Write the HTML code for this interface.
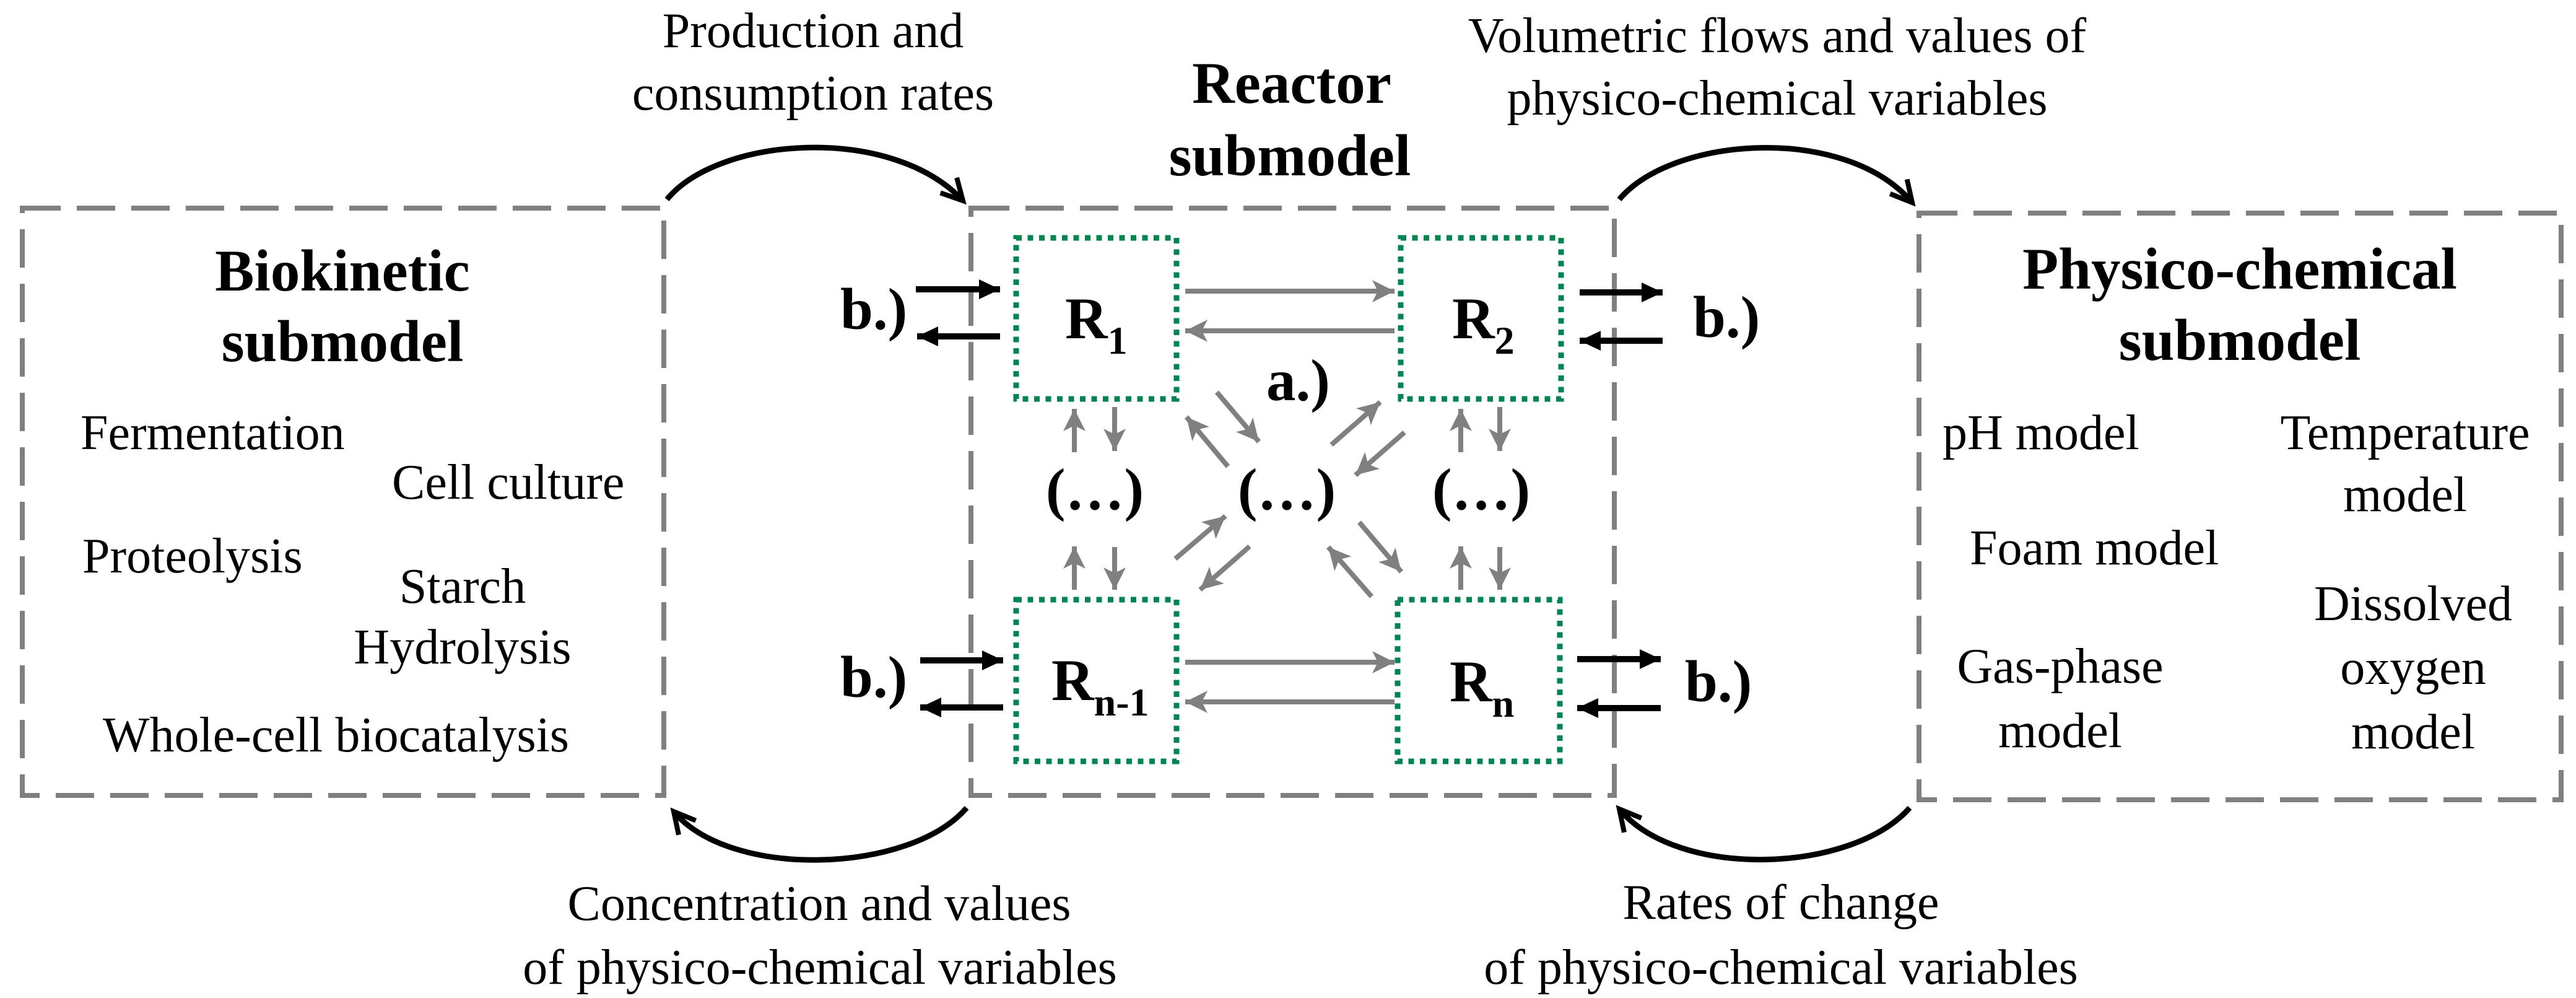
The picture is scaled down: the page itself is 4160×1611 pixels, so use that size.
<!DOCTYPE html>
<html><head><meta charset="utf-8"><style>
html,body{margin:0;padding:0;background:#fff}
body{position:relative;width:4160px;height:1611px;overflow:hidden}
svg{display:block;position:absolute;left:0;top:0}
.t{position:absolute;white-space:nowrap;line-height:1;font-family:"Liberation Serif","Times New Roman",serif;color:#000}
.c{transform:translateX(-50%)}
.b{font-weight:bold}
.f80{font-size:80px}
.f95{font-size:95px}
sub{font-size:64px;vertical-align:-25px;line-height:0}
</style></head><body>
<svg width="4160" height="1611" viewBox="0 0 4160 1611" xmlns="http://www.w3.org/2000/svg">
<defs>
<marker id="g" markerUnits="userSpaceOnUse" markerWidth="44" markerHeight="44" refX="36" refY="18" orient="auto"><path d="M0,0 L36,18 L0,36 L9,18 Z" fill="#808080"/></marker>
<marker id="k" markerUnits="userSpaceOnUse" markerWidth="40" markerHeight="40" refX="34" refY="16" orient="auto"><path d="M0,0 L34,16 L0,32 Z" fill="#000"/></marker>
<marker id="v" markerUnits="userSpaceOnUse" markerWidth="50" markerHeight="50" refX="38" refY="22" orient="auto"><path d="M4,4 L38,22 L4,40" fill="none" stroke="#000" stroke-width="8"/></marker>
</defs>
<g fill="none" stroke="#808080" stroke-width="8" stroke-dasharray="62,26">
<rect x="36" y="336" width="1036" height="948"/>
<rect x="1568" y="336" width="1039" height="948"/>
<rect x="3099" y="344" width="1037" height="947"/>
</g>
<g fill="none" stroke="#008550" stroke-width="9" stroke-dasharray="9,9.5">
<rect x="1641" y="384" width="259" height="260"/>
<rect x="2262" y="384" width="259" height="260"/>
<rect x="1641" y="968" width="259" height="261"/>
<rect x="2257" y="968" width="262" height="261"/>
</g>
<g stroke="#808080" stroke-width="8" fill="none" marker-end="url(#g)">
<line x1="1914" y1="470" x2="2252" y2="470"/>
<line x1="2252" y1="534" x2="1914" y2="534"/>
<line x1="1914" y1="1069" x2="2252" y2="1069"/>
<line x1="2252" y1="1133" x2="1914" y2="1133"/>
<line x1="1735" y1="730" x2="1735" y2="660"/>
<line x1="1800" y1="657" x2="1800" y2="728"/>
<line x1="1735" y1="952" x2="1735" y2="882"/>
<line x1="1800" y1="883" x2="1800" y2="952"/>
<line x1="2359" y1="730" x2="2359" y2="660"/>
<line x1="2422" y1="657" x2="2422" y2="728"/>
<line x1="2359" y1="952" x2="2359" y2="882"/>
<line x1="2422" y1="883" x2="2422" y2="952"/>
<line x1="1965" y1="633" x2="2033" y2="713"/>
<line x1="1983" y1="753" x2="1916" y2="673"/>
<line x1="2150" y1="718" x2="2229" y2="649"/>
<line x1="2268" y1="698" x2="2189" y2="767"/>
<line x1="1898" y1="902" x2="1979" y2="833"/>
<line x1="2018" y1="882" x2="1938" y2="952"/>
<line x1="2195" y1="843" x2="2263" y2="923"/>
<line x1="2215" y1="963" x2="2145" y2="883"/>
</g>
<g stroke="#000" stroke-width="10" marker-end="url(#k)">
<line x1="1479" y1="467" x2="1615" y2="467"/>
<line x1="1615" y1="543" x2="1481" y2="543"/>
<line x1="1486" y1="1066" x2="1620" y2="1066"/>
<line x1="1620" y1="1142" x2="1486" y2="1142"/>
<line x1="2551" y1="472" x2="2685" y2="472"/>
<line x1="2685" y1="550" x2="2551" y2="550"/>
<line x1="2547" y1="1064" x2="2682" y2="1064"/>
<line x1="2682" y1="1143" x2="2547" y2="1143"/>
</g>
<g fill="none" stroke="#000" stroke-width="9" marker-end="url(#v)">
<path d="M1077,322 C1160,220 1440,200 1555,324"/>
<path d="M2615,322 C2700,220 2980,200 3088,327"/>
<path d="M1561,1304 C1470,1410 1180,1420 1088,1310"/>
<path d="M3084,1304 C2990,1410 2710,1420 2615,1306"/>
</g>
</svg>

<!-- bold titles (top = baseline - 0.8375*95 ≈ baseline-80) -->
<div class="t b f95 c" style="left:553px;top:390px">Biokinetic</div>
<div class="t b f95 c" style="left:553px;top:504px">submodel</div>
<div class="t b f95 c" style="left:2086px;top:87px">Reactor</div>
<div class="t b f95 c" style="left:2083px;top:204px">submodel</div>
<div class="t b f95 c" style="left:3617px;top:387px">Physico-chemical</div>
<div class="t b f95 c" style="left:3617px;top:502px">submodel</div>

<div class="t b f95" style="left:1720px;top:467px">R<sub>1</sub></div>
<div class="t b f95" style="left:2345px;top:467px">R<sub>2</sub></div>
<div class="t b f95" style="left:1698px;top:1051px">R<sub>n-1</sub></div>
<div class="t b f95" style="left:2341px;top:1053px">R<sub>n</sub></div>

<div class="t b f95" style="left:1357px;top:452px">b.)</div>
<div class="t b f95" style="left:1357px;top:1046px">b.)</div>
<div class="t b f95" style="left:2734px;top:465px">b.)</div>
<div class="t b f95" style="left:2721px;top:1053px">b.)</div>
<div class="t b f95" style="left:2045px;top:567px">a.)</div>
<div class="t b f95 c" style="left:1768px;top:743px">(…)</div>
<div class="t b f95 c" style="left:2078px;top:743px">(…)</div>
<div class="t b f95 c" style="left:2392px;top:743px">(…)</div>

<!-- regular text (top = baseline - 67) -->
<div class="t f80 c" style="left:1313px;top:10px">Production and</div>
<div class="t f80 c" style="left:1313px;top:111px">consumption rates</div>
<div class="t f80 c" style="left:2870px;top:18px">Volumetric flows and values of</div>
<div class="t f80 c" style="left:2870px;top:119px">physico-chemical variables</div>
<div class="t f80 c" style="left:1323px;top:1419px">Concentration and values</div>
<div class="t f80 c" style="left:1324px;top:1522px">of physico-chemical variables</div>
<div class="t f80 c" style="left:2876px;top:1417px">Rates of change</div>
<div class="t f80 c" style="left:2876px;top:1522px">of physico-chemical variables</div>

<div class="t f80" style="left:130px;top:659px">Fermentation</div>
<div class="t f80" style="left:633px;top:739px">Cell culture</div>
<div class="t f80" style="left:133px;top:858px">Proteolysis</div>
<div class="t f80" style="left:166px;top:1147px">Whole-cell biocatalysis</div>
<div class="t f80" style="left:3137px;top:659px">pH model</div>
<div class="t f80" style="left:3181px;top:845px">Foam model</div>

<div class="t f80 c" style="left:747px;top:907px">Starch</div>
<div class="t f80 c" style="left:747px;top:1005px">Hydrolysis</div>
<div class="t f80 c" style="left:3884px;top:659px">Temperature</div>
<div class="t f80 c" style="left:3884px;top:759px">model</div>
<div class="t f80 c" style="left:3327px;top:1036px">Gas-phase</div>
<div class="t f80 c" style="left:3327px;top:1140px">model</div>
<div class="t f80 c" style="left:3897px;top:935px">Dissolved</div>
<div class="t f80 c" style="left:3897px;top:1038px">oxygen</div>
<div class="t f80 c" style="left:3897px;top:1142px">model</div>
</body></html>
